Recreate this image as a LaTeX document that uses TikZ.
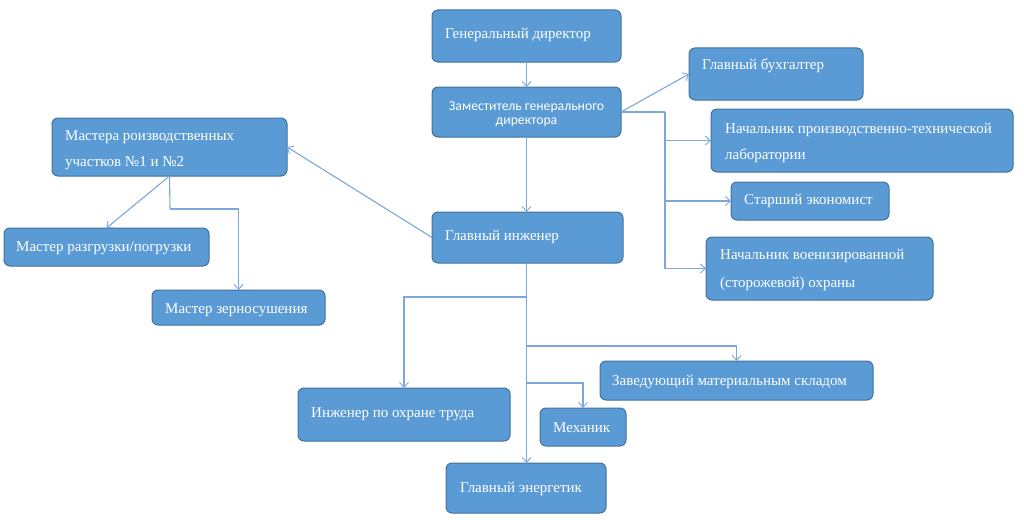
\documentclass[tikz,border=0pt]{standalone}
\usepackage{fontspec}
\setmainfont{Liberation Serif}
\newfontfamily\calib{Carlito}
\usetikzlibrary{arrows.meta}
\definecolor{boxfill}{HTML}{5B9BD5}
\definecolor{boxline}{HTML}{41719C}
\definecolor{conn}{HTML}{7BA7DA}
\tikzset{
  box/.style={draw=boxline, fill=boxfill, line width=1pt, rounded corners=6pt, inner sep=0pt, outer sep=0pt, anchor=north west},
  txt/.style={text=white, anchor=base west, inner sep=0pt, font=\rmfamily\fontsize{15}{17}\selectfont},
  arr/.style={draw=conn, line width=1.1pt, -{Straight Barb[length=5pt,width=9pt,line width=0.9pt]}},
  ln/.style={draw=conn, line width=1.1pt}
}
\begin{document}
\begin{tikzpicture}[x=1pt,y=-1pt]
\useasboundingbox (0,0) rectangle (1024,519);
% boxes
\node[box, minimum width=189, minimum height=52] (gd) at (432,10) {};
\node[box, minimum width=189, minimum height=50] (zam) at (432,87) {};
\node[box, minimum width=174, minimum height=52] (gb) at (689,48) {};
\node[box, minimum width=302, minimum height=63] (npt) at (711,109) {};
\node[box, minimum width=158, minimum height=38] (se) at (731,182) {};
\node[box, minimum width=227, minimum height=63] (nvo) at (706,237) {};
\node[box, minimum width=191, minimum height=51] (gi) at (432,212) {};
\node[box, minimum width=235, minimum height=58] (mp) at (52,118) {};
\node[box, minimum width=205, minimum height=38] (mr) at (4,228) {};
\node[box, minimum width=173, minimum height=35] (mz) at (152,290) {};
\node[box, minimum width=212, minimum height=53] (io) at (298,388) {};
\node[box, minimum width=86, minimum height=38] (mex) at (540,408) {};
\node[box, minimum width=273, minimum height=39] (zav) at (600,361) {};
\node[box, minimum width=160, minimum height=50] (ge) at (446,463) {};
% texts
\node[txt] (gdt) at (445,39) {Генеральный директор};
\node[text=white, inner sep=0pt, align=center, font=\calib\fontsize{13.7}{14}\selectfont] (zamt) at ([yshift=-2]zam.center) {Заместитель генерального\\директора};
\node[txt] (gbt) at (702,70) {Главный бухгалтер};
\node[txt] (nptt1) at (725,133) {Начальник производственно-технической};
\node[txt] (nptt2) at (725,159) {лаборатории};
\node[txt] (set) at (744,204) {Старший экономист};
\node[txt] (nvot1) at (720,259) {Начальник военизированной};
\node[txt] (nvot2) at (720,287) {(сторожевой) охраны};
\node[txt] (git) at (445,240) {Главный инженер};
\node[txt] (mpt1) at (65,140) {Мастера роизводственных};
\node[txt] (mpt2) at (65,166) {участков №1 и №2};
\node[txt] (mrt) at (16,251) {Мастер разгрузки/погрузки};
\node[txt] (mzt) at (165,313) {Мастер зерносушения};
\node[txt] (iot) at (311,417) {Инженер по охране труда};
\node[txt] (mext) at (553,432) {Механик};
\node[txt] (zavt) at (612,385) {Заведующий материальным складом};
\node[txt] (get) at (460,492) {Главный энергетик};
% junctions
\coordinate (j1) at (665,112);
\coordinate (j2) at (170,209);
\coordinate (b1) at (527,297);
\coordinate (b2) at (527,346);
\coordinate (b3) at (527,383);
% connectors
\draw[arr] (gd.south) -- (gd.south |- zam.north);
\draw[arr] (zam.east) -- (gb.west);
\draw[ln] (zam.east) -- (j1);
\draw[arr] (j1) |- (npt.west);
\draw[arr] (j1) |- (se.west);
\draw[arr] (j1) |- (nvo.west);
\draw[arr] (zam.south) -- (zam.south |- gi.north);
\draw[arr] (gi.west) -- (mp.east);
\draw[arr] (mp.south) -- (mr.north);
\draw[ln] (mp.south) -- (j2);
\draw[arr] (j2) -| (mz.north);
\draw[arr] (zam.south |- gi.south) -- (zam.south |- ge.north);
\draw[arr] (b1) -| (io.north);
\draw[arr] (b2) -| (zav.north);
\draw[arr] (b3) -| (mex.north);
\end{tikzpicture}
\end{document}
